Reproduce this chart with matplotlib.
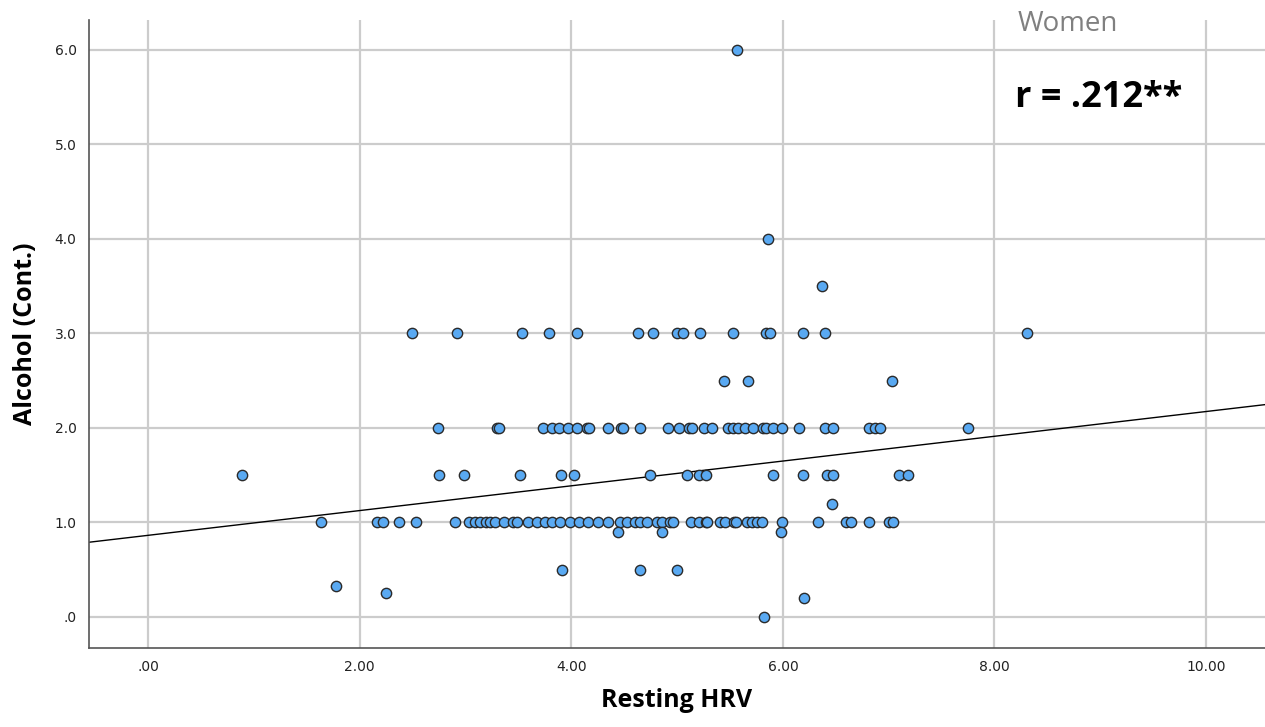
import numpy as np
import matplotlib.pyplot as plt

# Resting HRV values grouped by alcohol level
hrv_3_0 = [2.49, 2.92, 3.53, 3.79, 4.05, 4.63, 4.77, 5.00, 5.06, 5.22, 5.53,
           5.84, 5.88, 6.19, 6.40, 8.31]
hrv_2_0 = [2.74, 3.30, 3.32, 3.73, 3.82, 3.88, 3.97, 4.05, 4.15, 4.17, 4.35,
           4.47, 4.49, 4.65, 4.91, 5.02, 5.11, 5.14, 5.25, 5.33, 5.48, 5.53,
           5.58, 5.64, 5.72, 5.81, 5.84, 5.91, 5.99, 6.15, 6.40, 6.47, 6.81,
           6.87, 6.92, 7.75]
hrv_1_5 = [0.89, 2.75, 2.99, 3.52, 3.90, 4.03, 4.74, 5.09, 5.21, 5.27, 5.91,
           6.19, 6.42, 6.47, 7.10, 7.18]
hrv_1_0 = [1.63, 2.16, 2.22, 2.37, 2.53, 2.90, 3.03, 3.09, 3.14, 3.19, 3.23,
           3.28, 3.36, 3.45, 3.49, 3.59, 3.68, 3.75, 3.82, 3.89, 3.99, 4.07,
           4.16, 4.25, 4.35, 4.46, 4.53, 4.60, 4.65, 4.72, 4.81, 4.86, 4.93,
           4.96, 5.13, 5.21, 5.27, 5.28, 5.41, 5.45, 5.54, 5.56, 5.66, 5.71,
           5.76, 5.80, 5.99, 6.33, 6.60, 6.64, 6.81, 7.00, 7.04]
# scattered points (hrv, alcohol)
other_hrv = [5.44, 5.67, 7.03, 6.37, 5.86, 5.57, 6.46, 4.44, 4.86, 5.98,
             3.91, 4.65, 5.00, 1.78, 2.25, 6.20, 5.82]
other_alc = [2.5, 2.5, 2.5, 3.5, 4.0, 6.0, 1.2, 0.9, 0.9, 0.9,
             0.5, 0.5, 0.5, 0.33, 0.25, 0.2, 0.0]

fit_intercept = 0.864
fit_slope = 0.131

x = np.concatenate([hrv_3_0, hrv_2_0, hrv_1_5, hrv_1_0, other_hrv])
y = np.concatenate([np.full(len(hrv_3_0), 3.0), np.full(len(hrv_2_0), 2.0),
                    np.full(len(hrv_1_5), 1.5), np.full(len(hrv_1_0), 1.0),
                    other_alc])

fig = plt.figure(figsize=(12.65, 7.27), dpi=100)
ax = fig.add_axes([0.0704, 0.1087, 0.9296, 0.8638])

ax.set_axisbelow(True)
ax.grid(True, color='#cccccc', lw=1.6)
ax.scatter(x, y, s=55, color='#59a9f2', edgecolors='#2a2a2a', linewidths=1.0, zorder=3)
ax.axline((0, fit_intercept), slope=fit_slope, color='black', lw=1.0, zorder=2)

ax.set_xlim(-0.558, 10.557)
ax.set_ylim(-0.328, 6.317)
ax.set_xticks(np.arange(0, 11, 2))
ax.set_yticks(np.arange(0, 7, 1))
ax.set_xticklabels(['.00', '2.00', '4.00', '6.00', '8.00', '10.00'])
ax.set_yticklabels(['.0', '1.0', '2.0', '3.0', '4.0', '5.0', '6.0'])
ax.tick_params(length=0, labelsize=10, colors='#222222', pad=9)

for side in ['top', 'right']:
    ax.spines[side].set_visible(False)
for side in ['left', 'bottom']:
    ax.spines[side].set_color('#555555')
    ax.spines[side].set_linewidth(1.2)

ax.set_xlabel('Resting HRV', fontsize=18, fontweight='bold', family='Open Sans', labelpad=10)
ax.set_ylabel('Alcohol (Cont.)', fontsize=18, fontweight='bold', family='Open Sans', labelpad=12)

fig.text(1018 / 1265, 1 - 24 / 727, 'Women', fontsize=20, color='#808080',
         family='Open Sans', va='center', ha='left')
fig.text(1015 / 1265, 1 - 98 / 727, 'r = .212**', fontsize=26, fontweight='bold',
         color='black', family='Open Sans', va='center', ha='left')

fig.savefig('out.png', dpi=100)
